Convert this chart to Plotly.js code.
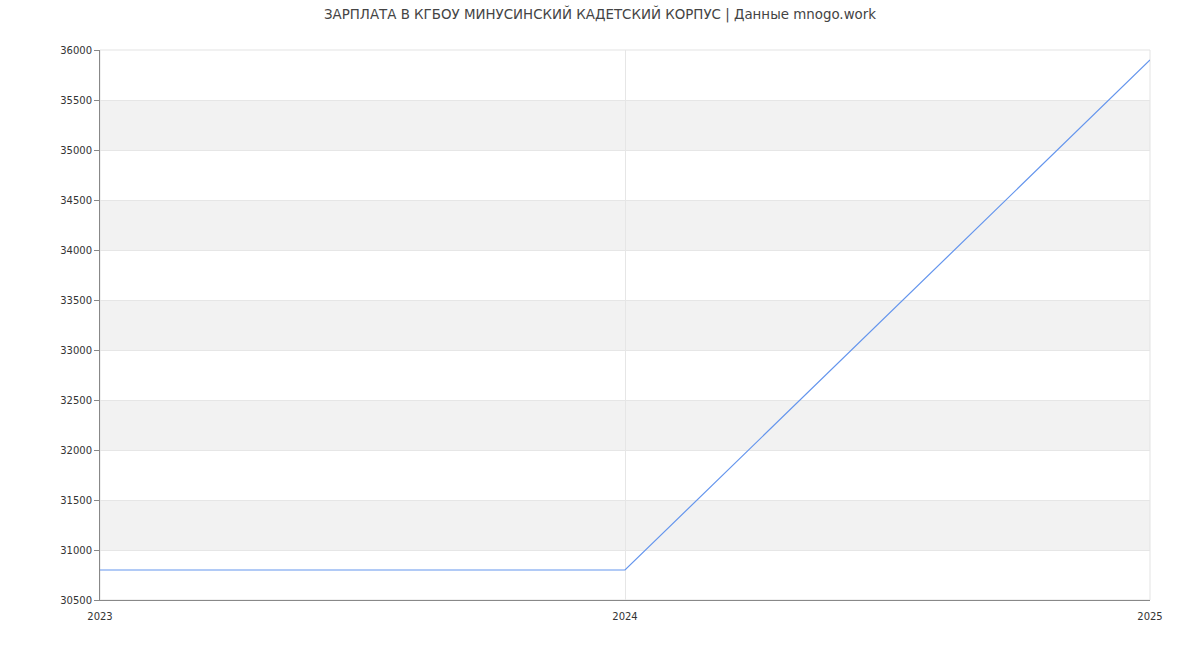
<!DOCTYPE html>
<html>
<head>
<meta charset="utf-8">
<script src="https://cdn.plot.ly/plotly-3.0.1.min.js"></script>
<style>html,body{margin:0;padding:0;background:#fff;}#chart{width:1200px;height:650px;}</style>
</head>
<body>
<div id="chart"></div>
<script>
const years = [2023, 2024, 2025];
const salaries = [30800, 30800, 35900];
const yTicks = [30500, 31000, 31500, 32000, 32500, 33000, 33500, 34000, 34500, 35000, 35500, 36000];
const xTicks = [2023, 2024, 2025];
const bandStarts = [31000, 32000, 33000, 34000, 35000];

const shapes = bandStarts.map(s => ({
  type: 'rect', xref: 'paper', yref: 'y', x0: 0, x1: 1, y0: s, y1: s + 500,
  fillcolor: '#f2f2f2', line: {width: 0}, layer: 'below'
}));
shapes.push({type: 'rect', xref: 'paper', yref: 'paper', x0: 0, x1: 1, y0: 0, y1: 1,
  line: {color: '#e3e3e3', width: 1}, fillcolor: 'rgba(0,0,0,0)', layer: 'below'});

Plotly.newPlot('chart', [{
  x: years, y: salaries, type: 'scatter', mode: 'lines',
  line: {color: '#6495ed', width: 1.2}, hoverinfo: 'x+y'
}], {
  width: 1200, height: 650,
  margin: {l: 100, r: 50, t: 50, b: 50},
  paper_bgcolor: '#fff', plot_bgcolor: '#fff',
  font: {family: 'DejaVu Sans, sans-serif', size: 10, color: '#333'},
  title: {text: 'ЗАРПЛАТА В КГБОУ МИНУСИНСКИЙ КАДЕТСКИЙ КОРПУС | Данные mnogo.work', x: 0.5, xanchor: 'center', y: 0.985, yanchor: 'top', font: {size: 13.4, color: '#444'}},
  showlegend: false,
  shapes: shapes,
  xaxis: {
    range: [2023, 2025], tickvals: xTicks, ticktext: xTicks.map(String),
    showgrid: true, gridcolor: '#e6e6e6', gridwidth: 1,
    showline: true, linecolor: '#888', linewidth: 1,
    ticks: '', ticklabelstandoff: 7, zeroline: false, tickfont: {size: 10, color: '#333'}
  },
  yaxis: {
    range: [30500, 36000], tickvals: yTicks, ticktext: yTicks.map(String),
    showgrid: true, gridcolor: '#e6e6e6', gridwidth: 1,
    showline: true, linecolor: '#888', linewidth: 1,
    ticks: 'outside', ticklen: 5, tickcolor: '#888', zeroline: false,
    tickfont: {size: 10, color: '#333'}
  }
}, {displayModeBar: false, staticPlot: true});
</script>
</body>
</html>
